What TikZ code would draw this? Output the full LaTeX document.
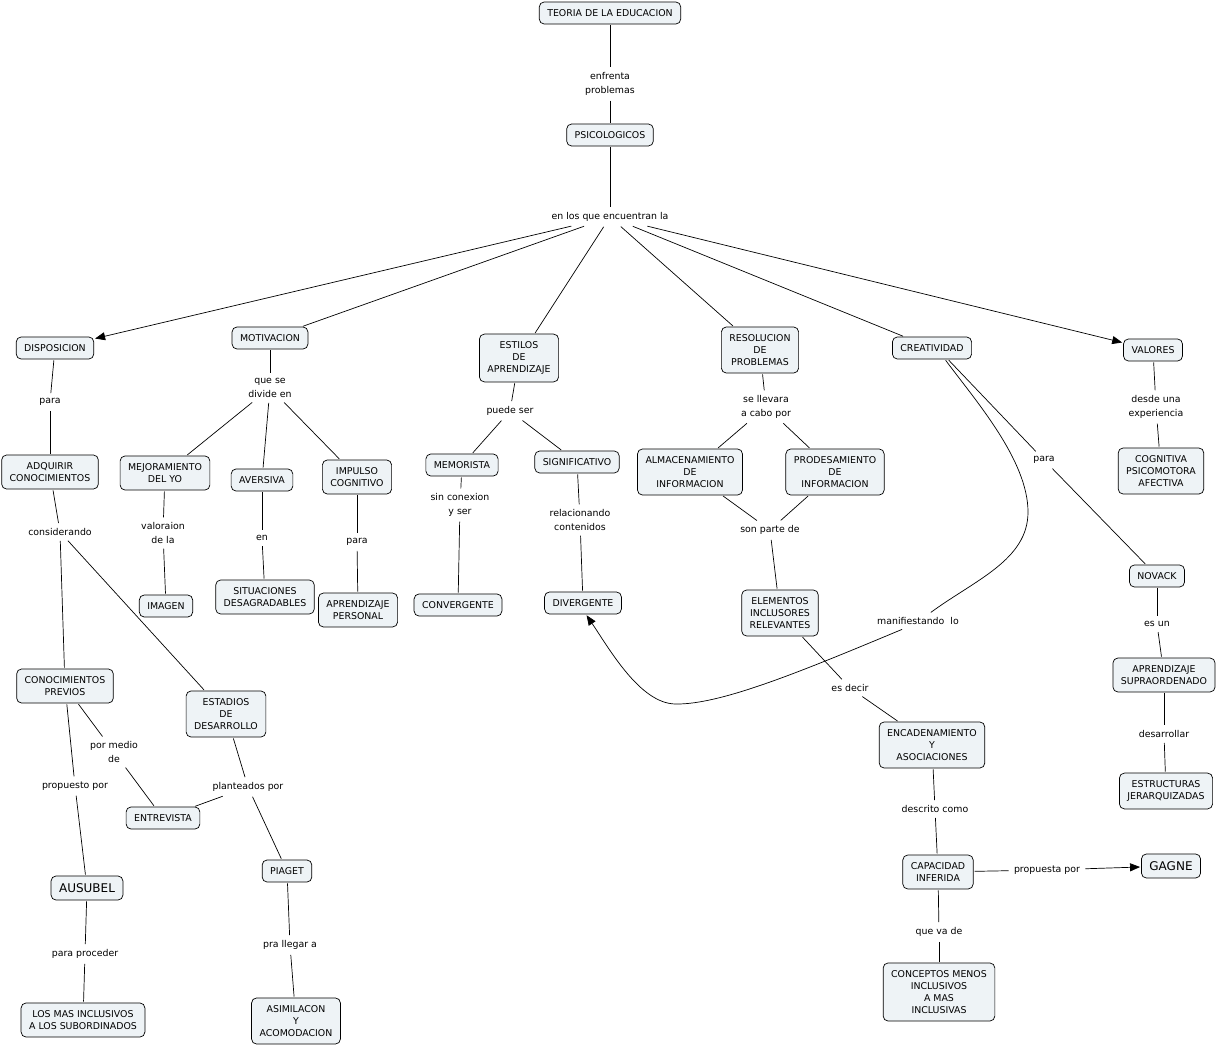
\documentclass[tikz,border=0pt]{standalone}
\usepackage{fontspec}
\setmainfont{DejaVu Sans}
\usetikzlibrary{arrows.meta,positioning}
\definecolor{conceptfill}{RGB}{238,243,246}

\begin{document}
\begin{tikzpicture}[x=1pt,y=-1pt,>={Triangle[length=10pt,width=8pt]},shorten >=1pt,shorten <=1pt,line width=0.7pt,
    concept node/.style={draw,rounded corners=5pt,fill=conceptfill,align=center,inner xsep=8pt,inner ysep=7.5pt,font=\fontsize{9.4}{12}\selectfont},
    link node/.style={align=center,inner sep=4pt,font=\fontsize{9.4}{13.5}\selectfont},
    big node/.style={concept node,font=\fontsize{12}{14}\selectfont}]
            \useasboundingbox (0,0) rectangle (1219,1046);

            \node[concept node] (teoria) at (610,13) {TEORIA DE LA EDUCACION};
            \node[link node] (enfrenta) [node distance = 71pt, below of = teoria] {enfrenta\\problemas};
            \node[concept node] (psico) [node distance = 51pt, below of = enfrenta] {PSICOLOGICOS};
            \node[link node] (encuentran) [node distance = 82pt, below of = psico] {en los que encuentran la};

            \node[concept node] (dispo) [node distance = 131pt, below of = encuentran, xshift = -555pt] {DISPOSICION};
            \node[concept node] (motiv) [node distance = 121pt, below of = encuentran, xshift = -340pt] {MOTIVACION};
            \node[concept node] (estilos) [node distance = 141pt, below of = encuentran, xshift = -91pt] {ESTILOS\\DE\\APRENDIZAJE};
            \node[concept node] (resol) [node distance = 133pt, below of = encuentran, xshift = 150pt] {RESOLUCION\\DE\\PROBLEMAS};
            \node[concept node] (creat) [node distance = 131pt, below of = encuentran, xshift = 322pt] {CREATIVIDAD};
            \node[concept node] (valores) [node distance = 133pt, below of = encuentran, xshift = 543pt] {VALORES};

            % disposicion
            \node[link node] (para1) [node distance = 54pt, below of = dispo, xshift = -5pt] {para};
            \node[concept node] (adquirir) [node distance = 70pt, below of = para1] {ADQUIRIR\\CONOCIMIENTOS};
            \node[link node] (consid) [node distance = 60pt, below of = adquirir, xshift = 10pt] {considerando};
            \node[concept node] (conprev) [node distance = 154pt, below of = consid, xshift = 5pt] {CONOCIMIENTOS\\PREVIOS};
            \node[concept node] (estadios) [node distance = 182pt, below of = consid, xshift = 166pt] {ESTADIOS\\DE\\DESARROLLO};
            \node[link node] (pormedio) [node distance = 66pt, below of = conprev, xshift = 49pt] {por medio\\de};
            \node[link node] (propuesto) [node distance = 100pt, below of = conprev, xshift = 10pt] {propuesto por};
            \node[concept node] (entrevista) [node distance = 66pt, below of = pormedio, xshift = 49pt] {ENTREVISTA};
            \node[link node] (plante) [node distance = 73pt, below of = estadios, xshift = 22pt] {planteados por};
            \node[concept node] (piaget) [node distance = 84pt, below of = plante, xshift = 39pt] {PIAGET};
            \node[big node] (ausubel) [node distance = 102pt, below of = propuesto, xshift = 12pt] {AUSUBEL};
            \node[link node] (proceder) [node distance = 66pt, below of = ausubel, xshift = -2pt] {para proceder};
            \node[concept node] (masincl) [node distance = 66pt, below of = proceder, xshift = -2pt] {LOS MAS INCLUSIVOS\\A LOS SUBORDINADOS};
            \node[link node] (llegar) [node distance = 74pt, below of = piaget, xshift = 3pt] {pra llegar a};
            \node[concept node] (asimil) [node distance = 76pt, below of = llegar, xshift = 6pt] {ASIMILACON\\Y\\ACOMODACION};

            % motivacion
            \node[link node] (divide) [node distance = 50pt, below of = motiv] {que se\\divide en};
            \node[concept node] (mejora) [node distance = 85pt, below of = divide, xshift = -105pt] {MEJORAMIENTO\\DEL YO};
            \node[concept node] (aversiva) [node distance = 92pt, below of = divide, xshift = -8pt] {AVERSIVA};
            \node[concept node] (impulso) [node distance = 89pt, below of = divide, xshift = 87pt] {IMPULSO\\COGNITIVO};
            \node[link node] (valor) [node distance = 60pt, below of = mejora, xshift = -2pt] {valoraion\\de la};
            \node[concept node] (imagen) [node distance = 73pt, below of = valor, xshift = 3pt] {IMAGEN};
            \node[link node] (en) [node distance = 58pt, below of = aversiva] {en};
            \node[concept node] (situac) [node distance = 59pt, below of = en, xshift = 3pt] {SITUACIONES\\DESAGRADABLES};
            \node[link node] (para2) [node distance = 65pt, below of = impulso] {para};
            \node[concept node] (aprpers) [node distance = 68pt, below of = para2, xshift = 1pt] {APRENDIZAJE\\PERSONAL};

            % estilos
            \node[link node] (puede) [node distance = 53pt, below of = estilos, xshift = -9pt] {puede ser};
            \node[concept node] (memor) [node distance = 54pt, below of = puede, xshift = -48pt] {MEMORISTA};
            \node[concept node] (signif) [node distance = 51pt, below of = puede, xshift = 67pt] {SIGNIFICATIVO};
            \node[link node] (sincon) [node distance = 40pt, below of = memor, xshift = -2pt] {sin conexion\\y ser};
            \node[concept node] (converg) [node distance = 100pt, below of = sincon, xshift = -2pt] {CONVERGENTE};
            \node[link node] (relac) [node distance = 58pt, below of = signif, xshift = 3pt] {relacionando\\contenidos};
            \node[concept node] (diverg) [node distance = 83pt, below of = relac, xshift = 3pt] {DIVERGENTE};

            % resolucion
            \node[link node] (llevara) [node distance = 57pt, below of = resol, xshift = 6pt] {se llevara\\a cabo por};
            \node[concept node] (almac) [node distance = 65pt, below of = llevara, xshift = -76pt] {ALMACENAMIENTO\\DE\\INFORMACION};
            \node[concept node] (prodes) [node distance = 65pt, below of = llevara, xshift = 69pt] {PRODESAMIENTO\\DE\\INFORMACION};
            \node[link node] (parte) [node distance = 58pt, below of = almac, xshift = 80pt] {son parte de};
            \node[concept node] (elem) [node distance = 83pt, below of = parte, xshift = 10pt] {ELEMENTOS\\INCLUSORES\\RELEVANTES};
            \node[link node] (decir) [node distance = 75pt, below of = elem, xshift = 70pt] {es decir};
            \node[concept node] (encad) [node distance = 57pt, below of = decir, xshift = 82pt] {ENCADENAMIENTO\\Y\\ASOCIACIONES};
            \node[link node] (descrito) [node distance = 64pt, below of = encad, xshift = 3pt] {descrito como};
            \node[concept node] (capac) [node distance = 63pt, below of = descrito, xshift = 3pt] {CAPACIDAD\\INFERIDA};
            \node[link node] (propuesta) [node distance = 109pt, right of = capac, yshift = 2pt] {propuesta por};
            \node[big node] (gagne) [node distance = 124pt, right of = propuesta, yshift = 4pt] {GAGNE};
            \node[link node] (vade) [node distance = 60pt, below of = capac, xshift = 1pt] {que va de};
            \node[concept node] (concmenos) [node distance = 60pt, below of = vade] {CONCEPTOS MENOS\\INCLUSIVOS\\A MAS\\INCLUSIVAS};

            % creatividad
            \node[link node] (para3) [node distance = 112pt, below of = creat, xshift = 112pt] {para};
            \node[concept node] (novack) [node distance = 116pt, below of = para3, xshift = 113pt] {NOVACK};
            \node[link node] (esun) [node distance = 48pt, below of = novack] {es un};
            \node[concept node] (aprsupra) [node distance = 51pt, below of = esun, xshift = 7pt] {APRENDIZAJE\\SUPRAORDENADO};
            \node[link node] (desarr) [node distance = 59pt, below of = aprsupra] {desarrollar};
            \node[concept node] (estruct) [node distance = 57pt, below of = desarr, xshift = 2pt] {ESTRUCTURAS\\JERARQUIZADAS};
            \node[link node] (manif) [node distance = 273pt, below of = creat, xshift = -14pt] {manifiestando\ \ lo};

            % valores
            \node[link node] (desde) [node distance = 57pt, below of = valores, xshift = 3pt] {desde una\\experiencia};
            \node[concept node] (cognit) [node distance = 64pt, below of = desde, xshift = 5pt] {COGNITIVA\\PSICOMOTORA\\AFECTIVA};

            \path
                (teoria) edge (enfrenta)
                (enfrenta) edge (psico)
                (psico) edge (encuentran)
                (encuentran) edge[->] (dispo)
                (encuentran) edge (motiv)
                (encuentran) edge (estilos)
                (encuentran) edge (resol)
                (encuentran) edge (creat)
                (encuentran) edge[->] (valores)
                (dispo) edge (para1)
                (para1) edge (adquirir)
                (adquirir) edge (consid)
                (consid) edge (conprev)
                (consid) edge (estadios)
                (conprev) edge (pormedio)
                (pormedio) edge (entrevista)
                (conprev) edge (propuesto)
                (propuesto) edge (ausubel)
                (estadios) edge (plante)
                (plante) edge (entrevista)
                (plante) edge (piaget)
                (ausubel) edge (proceder)
                (proceder) edge (masincl)
                (piaget) edge (llegar)
                (llegar) edge (asimil)
                (motiv) edge (divide)
                (divide) edge (mejora)
                (divide) edge (aversiva)
                (divide) edge (impulso)
                (mejora) edge (valor)
                (valor) edge (imagen)
                (aversiva) edge (en)
                (en) edge (situac)
                (impulso) edge (para2)
                (para2) edge (aprpers)
                (estilos) edge (puede)
                (puede) edge (memor)
                (puede) edge (signif)
                (memor) edge (sincon)
                (sincon) edge (converg)
                (signif) edge (relac)
                (relac) edge (diverg)
                (resol) edge (llevara)
                (llevara) edge (almac)
                (llevara) edge (prodes)
                (almac) edge (parte)
                (prodes) edge (parte)
                (parte) edge (elem)
                (elem) edge (decir)
                (decir) edge (encad)
                (encad) edge (descrito)
                (descrito) edge (capac)
                (capac) edge (propuesta)
                (propuesta) edge[->] (gagne)
                (capac) edge (vade)
                (vade) edge (concmenos)
                ([xshift=16pt]creat.south) edge (para3)
                (para3) edge (novack)
                (novack) edge (esun)
                (esun) edge (aprsupra)
                (aprsupra) edge (desarr)
                (desarr) edge (estruct)
                (valores) edge (desde)
                (desde) edge (cognit)
                ;

            % curva de creatividad a divergente
            \draw ([xshift=13pt]creat.south) .. controls (975,400) and (1028,460) .. (1028,512)
                .. controls (1028,560) and (975,580) .. ([xshift=12pt]manif.north);
            \draw[->] ([xshift=-15pt]manif.south) .. controls (800,672) and (720,705) .. (675,704)
                .. controls (640,703) and (610,650) .. ([xshift=3pt]diverg.south);
\end{tikzpicture}
\end{document}
